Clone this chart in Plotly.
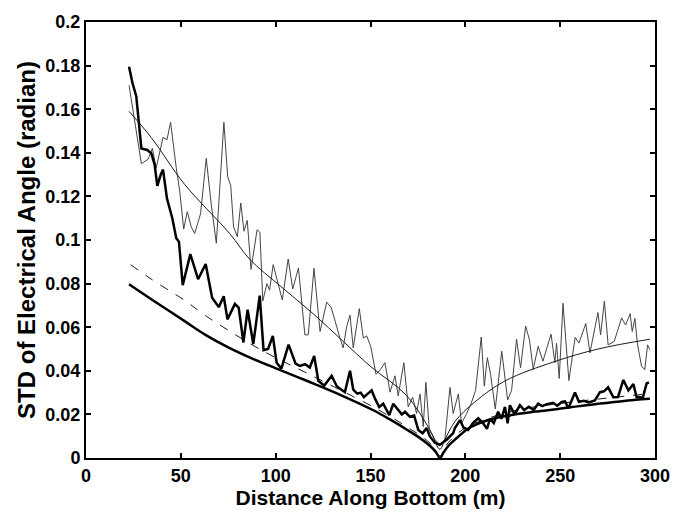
import plotly.graph_objects as go

# Thin noisy measured curve
thin_x = [22.7, 29.2, 32.7, 35.0, 37.0, 40.6, 42.7, 44.6, 47.6, 49.4, 51.5, 53.4, 55.5, 57.3, 60.4, 63.4, 66.0, 68.7,
          72.7, 74.7, 76.3, 77.8, 79.8, 81.6, 83.3, 85.0, 87.0, 90.2, 91.7, 93.2, 95.4, 96.8, 98.7, 101.4, 103.5, 106.6,
          109.0, 112.0, 115.4, 117.2, 120.2, 123.4, 126.9, 129.3, 131.8, 133.9, 135.6, 137.4, 139.2, 140.9, 144.1, 146.2,
          148.0, 150.1, 152.9, 155.3, 157.6, 160.3, 162.9, 164.6, 167.6, 169.9, 172.2, 174.3, 176.1, 177.8, 179.2, 181.0,
          184.0, 186.6, 189.2, 191.9, 193.6, 196.3, 198.0, 200.5, 203.0, 205.4, 208.4, 210.0, 211.6, 213.3, 215.8, 219.2,
          222.3, 224.4, 227.0, 229.1, 231.8, 233.8, 235.8, 238.4, 240.9, 243.0, 245.2, 247.2, 248.1, 249.5, 251.5, 254.6,
          257.9, 259.9, 263.5, 265.7, 269.9, 271.3, 273.3, 275.3, 278.5, 282.4, 284.5, 286.9, 288.0, 289.4, 290.8, 292.9,
          294.6, 296.1, 297.3]
thin_y = [0.171, 0.135, 0.137, 0.142, 0.133, 0.147, 0.146, 0.154, 0.133, 0.1225, 0.105, 0.113, 0.106, 0.103, 0.112, 0.1375,
          0.1165, 0.0985, 0.154, 0.129, 0.125, 0.106, 0.1015, 0.117, 0.104, 0.109, 0.0865, 0.1047, 0.1035, 0.072, 0.080,
          0.077, 0.0887, 0.079, 0.0725, 0.0913, 0.0775, 0.0872, 0.0565, 0.0565, 0.087, 0.058, 0.0715, 0.069, 0.061, 0.055,
          0.0505, 0.0602, 0.0655, 0.0505, 0.0685, 0.055, 0.056, 0.0512, 0.0384, 0.0407, 0.0437, 0.0302, 0.0377, 0.0285,
          0.0437, 0.0234, 0.0279, 0.0204, 0.0294, 0.0144, 0.0347, 0.0129, 0.0084, 0.0062, 0.0084, 0.0324, 0.0204, 0.0294,
          0.0159, 0.020, 0.0249, 0.031, 0.0555, 0.033, 0.046, 0.0384, 0.0225, 0.049, 0.0266, 0.031, 0.0545, 0.0414, 0.0605,
          0.0542, 0.0407, 0.0512, 0.0444, 0.050, 0.0568, 0.0437, 0.0527, 0.0365, 0.071, 0.0355, 0.0553, 0.0527, 0.0617,
          0.0482, 0.0667, 0.0565, 0.0719, 0.0519, 0.0535, 0.0643, 0.061, 0.0662, 0.058, 0.064, 0.0519, 0.0422, 0.0405,
          0.0519, 0.0497]

# Thin smooth fitted curve
fit_x = [22.7, 34.4, 52.0, 75.7, 86.5, 102.3, 120.0, 135.6, 150.0, 169.0, 181.3, 186.6, 189.0, 194.5, 205.0, 221.0,
         247.0, 270.0, 297.3]
fit_y = [0.159, 0.147, 0.1255, 0.103, 0.091, 0.079, 0.066, 0.0535, 0.042, 0.0287, 0.0129, 0.004, 0.008, 0.0167,
         0.0257, 0.0354, 0.0442, 0.050, 0.0545]

# Thick noisy measured curve
thick_x = [22.7, 24.5, 26.5, 29.2, 32.3, 34.4, 36.2, 37.6, 39.4, 40.6, 42.7, 45.5, 47.6, 49.0, 51.0, 55.0, 59.1, 63.1,
           66.5, 70.0, 72.6, 74.6, 78.5, 80.5, 83.0, 85.2, 88.2, 91.6, 93.6, 96.0, 98.5, 100.5, 103.0, 106.8, 110.5,
           112.8, 115.5, 118.0, 120.3, 122.5, 125.6, 129.5, 132.3, 135.6, 136.5, 139.2, 140.9, 143.0, 144.8, 146.5,
           148.5, 150.6, 152.5, 154.6, 156.7, 159.9, 162.0, 164.6, 166.5, 168.2, 170.8, 173.0, 175.2, 177.5, 179.6,
           181.3, 184.0, 186.5, 190.1, 193.6, 194.5, 197.2, 199.0, 201.5, 204.0, 206.8, 209.4, 211.4, 213.0, 215.0,
           217.3, 219.0, 220.9, 222.3, 223.5, 226.0, 228.8, 231.0, 233.5, 236.0, 238.4, 240.5, 243.0, 246.3, 248.5,
           250.8, 252.6, 254.3, 257.8, 259.9, 262.5, 265.0, 268.3, 271.0, 273.1, 275.3, 278.0, 280.5, 283.3, 286.0,
           288.6, 290.3, 292.0, 293.5, 295.6, 296.8]
thick_y = [0.1795, 0.172, 0.166, 0.142, 0.1413, 0.1398, 0.1345, 0.1248, 0.130, 0.1323, 0.119, 0.110, 0.1008, 0.0992,
           0.0793, 0.0935, 0.082, 0.089, 0.0735, 0.0692, 0.0742, 0.0636, 0.0707, 0.069, 0.053, 0.068, 0.0523, 0.0745,
           0.0495, 0.050, 0.056, 0.0437, 0.041, 0.052, 0.0433, 0.0422, 0.043, 0.0415, 0.0468, 0.0354, 0.0332, 0.0377,
           0.0328, 0.031, 0.0302, 0.040, 0.0314, 0.0295, 0.030, 0.0279, 0.0295, 0.031, 0.027, 0.0234, 0.0249, 0.0197,
           0.0249, 0.0219, 0.020, 0.0212, 0.0189, 0.0195, 0.0129, 0.0114, 0.0137, 0.0099, 0.007, 0.006, 0.0084, 0.0114,
           0.0137, 0.0174, 0.014, 0.0129, 0.016, 0.0182, 0.0159, 0.0134, 0.018, 0.016, 0.0212, 0.018, 0.0234, 0.0159,
           0.0242, 0.020, 0.0242, 0.022, 0.0235, 0.022, 0.0249, 0.0238, 0.0247, 0.0253, 0.024, 0.0257, 0.026, 0.0227,
           0.030, 0.0258, 0.0262, 0.0255, 0.0264, 0.0302, 0.0306, 0.0324, 0.0279, 0.028, 0.0358, 0.031, 0.0339, 0.0279,
           0.028, 0.0275, 0.0342, 0.0347]

# Dashed theoretical curve
dash_x = [23.5, 35.0, 52.0, 63.0, 75.0, 88.0, 100.5, 117.0, 134.0, 151.5, 169.0, 181.3, 186.6, 190.0, 200.0, 225.0,
          250.0, 275.0, 297.0]
dash_y = [0.0887, 0.0817, 0.0723, 0.0653, 0.0586, 0.0517, 0.0458, 0.0387, 0.0312, 0.0234, 0.0144, 0.0069, 0.001,
          0.006, 0.0138, 0.0215, 0.025, 0.0275, 0.0295]

# Thick smooth theoretical curve
bound_x = [22.7, 35.0, 52.0, 63.0, 75.0, 88.0, 100.5, 117.0, 134.0, 151.5, 160.0, 169.0, 175.0, 181.3, 184.5, 186.6,
           188.5, 191.0, 194.5, 200.6, 203.3, 212.1, 224.4, 237.0, 249.0, 260.0, 270.0, 280.0, 290.0, 297.3]
bound_y = [0.0797, 0.0725, 0.0628, 0.0565, 0.0508, 0.0455, 0.0410, 0.0352, 0.029, 0.0219, 0.0178, 0.0131, 0.0098,
           0.0056, 0.0027, 0.0, 0.0025, 0.0055, 0.0084, 0.013, 0.0144, 0.0174, 0.0197, 0.0213, 0.0225, 0.0238, 0.0249,
           0.0258, 0.0267, 0.0272]

x_ticks = [0, 50, 100, 150, 200, 250, 300]
y_ticks = [0, 0.02, 0.04, 0.06, 0.08, 0.1, 0.12, 0.14, 0.16, 0.18, 0.2]
y_ticktext = ["0", "0.02", "0.04", "0.06", "0.08", "0.1", "0.12", "0.14", "0.16", "0.18", "0.2"]

fig = go.Figure()
fig.add_trace(go.Scatter(x=thin_x, y=thin_y, mode="lines", line=dict(color="#444444", width=1)))
fig.add_trace(go.Scatter(x=fit_x, y=fit_y, mode="lines", line=dict(color="#1a1a1a", width=1, shape="spline")))
fig.add_trace(go.Scatter(x=dash_x, y=dash_y, mode="lines", line=dict(color="#1a1a1a", width=1, dash="dash", shape="spline")))
fig.add_trace(go.Scatter(x=bound_x, y=bound_y, mode="lines", line=dict(color="black", width=2.5, shape="spline")))
fig.add_trace(go.Scatter(x=thick_x, y=thick_y, mode="lines", line=dict(color="black", width=2.5)))

font_family = "Liberation Sans, Arial, sans-serif"
axis_common = dict(showline=True, linecolor="black", linewidth=2, mirror="ticks", ticks="inside",
                   ticklen=5, tickwidth=1.5, tickcolor="black", showgrid=False, zeroline=False,
                   tickfont=dict(family=font_family, size=18, color="black"))

fig.update_layout(
    width=686, height=515,
    margin=dict(l=86, r=31, t=18, b=53),
    plot_bgcolor="white", paper_bgcolor="white",
    showlegend=False,
    font=dict(family=font_family, color="black"),
    xaxis=dict(range=[0, 300], tickvals=x_ticks, ticktext=[f"<b>{v}</b>" for v in x_ticks],
               title=dict(text="<b>Distance Along Bottom (m)</b>", font=dict(size=21), standoff=3),
               **axis_common),
    yaxis=dict(range=[0, 0.2], tickvals=y_ticks, ticktext=[f"<b>{t}</b>" for t in y_ticktext],
               title=dict(text="<b>STD of Electrical Angle (radian)</b>", font=dict(size=24), standoff=3),
               **axis_common),
)

fig.write_html("out.html")
